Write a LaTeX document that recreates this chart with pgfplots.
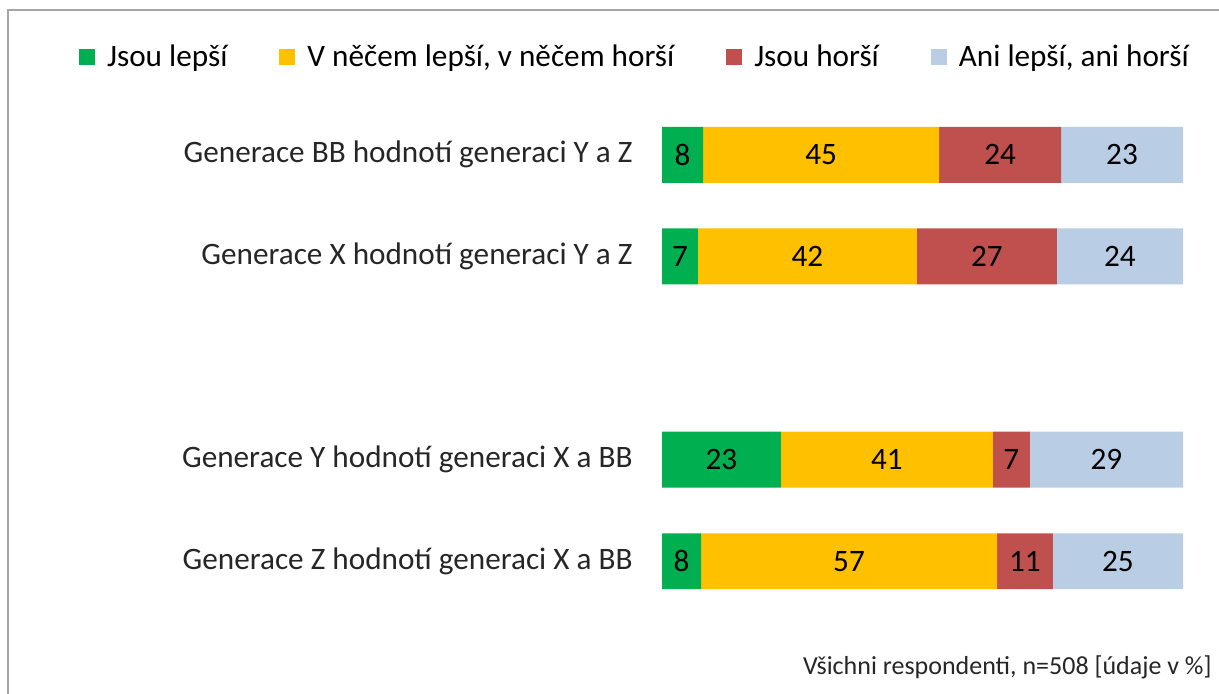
\documentclass[border=0pt]{standalone}
\usepackage{pgfplots}
\pgfplotsset{compat=1.18}
\usepackage{fontspec}
\setmainfont{Carlito}
\definecolor{cgreen}{HTML}{00B050}
\definecolor{cyellow}{HTML}{FFC000}
\definecolor{cred}{HTML}{C0504D}
\definecolor{cblue}{HTML}{B9CDE5}
\definecolor{cframe}{HTML}{A6A6A6}
\newcommand{\bigf}{\fontsize{15.6}{18}\selectfont}
\begin{document}
\begin{tikzpicture}
\begin{axis}[
  at={(331pt,40.5pt)}, anchor=south west,
  scale only axis, width=260.5pt, height=254pt,
  xbar stacked, bar width=0.55,
  xmin=0, xmax=100, ymin=-0.5, ymax=4.5, y dir=reverse,
  ytick={0,1,3,4},
  yticklabels={Generace BB hodnotí generaci Y a Z, Generace X hodnotí generaci Y a Z, Generace Y hodnotí generaci X a BB, Generace Z hodnotí generaci X a BB},
  xtick=\empty,
  axis line style={draw=none}, major tick length=0pt,
  yticklabel style={font=\bigf, inner sep=0pt, text=black!85},
  yticklabel shift=14.5pt,
  clip=false,
  point meta=explicit symbolic,
  nodes near coords,
  every node near coord/.append style={anchor=center, font=\bigf, text=black},
  legend columns=4,
  legend cell align=left,
  legend image code/.code={\fill[#1] (0pt,-4pt) rectangle (8pt,4pt);},
  legend style={at={(-0.05,1.0925)}, anchor=center, draw=none, fill=none, font=\bigf, inner sep=0pt,
    /tikz/every odd column/.append style={column sep=4pt},
    /tikz/every even column/.append style={column sep=24pt}},
]
\addplot[fill=cgreen, draw=none] coordinates {(7.9,0) [8] (6.9,1) [7] (22.8,3) [23] (7.5,4) [8]};
\addlegendentry{Jsou lepší}
\addplot[fill=cyellow, draw=none] coordinates {(45.3,0) [45] (42.0,1) [42] (40.7,3) [41] (56.8,4) [57]};
\addlegendentry{V něčem lepší, v něčem horší}
\addplot[fill=cred, draw=none] coordinates {(23.4,0) [24] (26.9,1) [27] (7.1,3) [7] (10.7,4) [11]};
\addlegendentry{Jsou horší}
\addplot[fill=cblue, draw=none] coordinates {(23.4,0) [23] (24.2,1) [24] (29.4,3) [29] (25,4) [25]};
\addlegendentry{Ani lepší, ani horší}
\end{axis}
\draw[cframe, line width=1pt] (4pt,-10pt) -- (4pt,341.5pt) -- (620pt,341.5pt);
\node[anchor=base east, inner sep=0pt, font=\fontsize{13}{15}\selectfont, text=black!85] at (606pt,9.5pt) {Všichni respondenti, n=508 [údaje v \%]};
\pgfresetboundingbox
\useasboundingbox (0pt,0pt) rectangle (609.5pt,346.5pt);
\end{tikzpicture}
\end{document}
